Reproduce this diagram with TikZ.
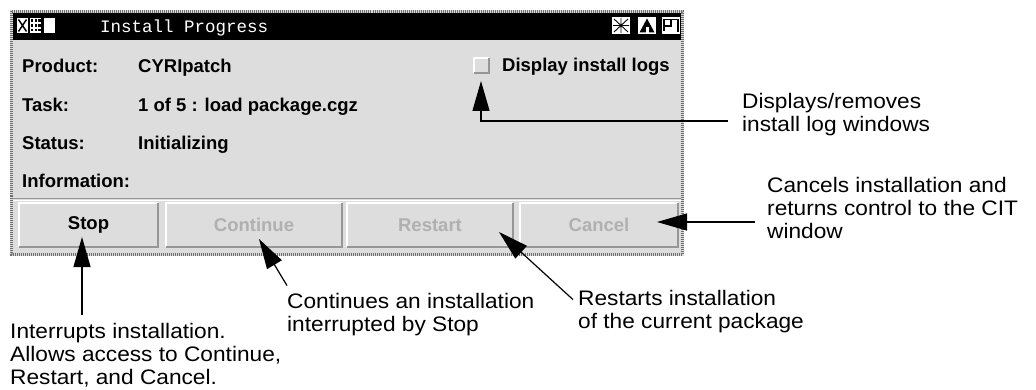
\documentclass[tikz,border=0pt]{standalone}
\usepackage{fontspec}
\setmainfont{Liberation Sans}
\newfontfamily\notefont[FakeStretch=1.08]{Liberation Sans}
\newfontfamily\titlefont{Liberation Mono}
\usetikzlibrary{arrows.meta}
\definecolor{uiface}{RGB}{221,221,221}
\definecolor{uishade}{RGB}{150,150,150}
\definecolor{uidim}{RGB}{176,176,176}
\definecolor{uiframe}{RGB}{110,110,110}
\tikzstyle{dialog}=[
    x=1pt, y=-1pt,
    field label/.style={font={\bfseries\fontsize{18.5}{20}\selectfont},anchor=base west,inner sep=0pt},
    button/.style={fill=uiface,minimum height=44pt,inner sep=0pt,font={\bfseries\fontsize{18.5}{20}\selectfont}},
    checkbox/.style={fill=uiface,minimum size=15pt,inner sep=0pt},
    bevel light/.style={white,line width=2pt},
    bevel dark/.style={uishade,line width=2pt},
    title icon/.style={fill=white},
    note/.style={font={\notefont\fontsize{21}{23}\selectfont},anchor=base west,align=left,inner sep=0pt},
    callout/.style={line width=1.2pt,-{Triangle[length=30pt,width=17pt]}},
]

\begin{document}
\begin{tikzpicture}[dialog]
    \useasboundingbox (0,0) rectangle (1036,390);

    % window
    \fill[uiface] (10,10) rectangle (684,256);
    \draw[uiframe,line width=3pt,dash pattern=on 1pt off 1pt] (11.5,11.5) rectangle (682.5,254.5);
    \fill[black] (13,13) rectangle (681,40);

    % title bar
    \fill[title icon] (17,18) rectangle (28,33);
    \draw[black,line width=1.4pt] (18.5,19.5) -- (26.5,31.5) (26.5,19.5) -- (18.5,31.5);
    \fill[title icon] (30,18) rectangle (41,33);
    \foreach \i in {0,1,2}
        \foreach \j in {0,1,2}
            \fill[black] ({31+\i*3.7},{19.5+\j*4.6}) rectangle +(2.2,2.6);
    \fill[title icon] (44,18) rectangle (55,33);
    \node[anchor=base west,inner sep=0pt,text=white,font={\titlefont\fontsize{17.5}{20}\selectfont}] (title) at (100,33) {Install Progress};
    \fill[title icon] (612,17) rectangle (630,34);
    \draw[black,line width=0.9pt] (621,18) -- (621,33) (613,25.5) -- (629,25.5) (614,19) -- (628,32) (628,19) -- (614,32);
    \fill[title icon] (638,17) rectangle (656,34);
    \fill[black] (647,18.5) -- (654.5,32.5) -- (639.5,32.5) -- cycle;
    \fill[title icon] (645.5,27) rectangle (648.5,34);
    \fill[title icon] (662,17) rectangle (680,34);
    \draw[black,line width=1.2pt] (664,31.5) -- (664,19.5) -- (678,19.5) (671,19.5) -- (671,26) -- (664,26) (678,19.5) -- (678,32);

    % fields
    \foreach \k/\y [count=\i] in {Product:/73, Task:/112, Status:/150, Information:/188}
        \node[field label] (key\i) at (22,\y) {\k};
    \foreach \v/\y [count=\i] in {CYRIpatch/73, 1 of 5 : load package.cgz/112, Initializing/150}
        \node[field label] (val\i) at (138,\y) {\v};

    \node[checkbox] (logbox) at (481.5,65.5) {};
    \draw[bevel light] (logbox.south west) |- (logbox.north east);
    \draw[bevel dark] (logbox.south west) -| (logbox.north east);
    \node[field label] (loglabel) at (502,72) {Display install logs};

    % buttons
    \draw[uishade] (13,198.5) -- (681,198.5);
    \draw[white] (13,200.5) -- (681,200.5);
    \foreach \n/\l/\xa/\xb/\c in {stop/Stop/19/158/black, cont/Continue/166/342/uidim, rest/Restart/347/513/uidim, canc/Cancel/520/678/uidim}{
        \node[button,minimum width=\xb pt-\xa pt,text=\c] (\n) at ({(\xa+\xb)/2},225) {\l};
        \draw[bevel light] (\n.south west) |- (\n.north east);
        \draw[bevel dark] (\n.south west) -| (\n.north east);
    }

    % notes (placed at the baseline of their last line)
    \node[note] (lognote) at (742,132) {Displays/removes\\install log windows};
    \node[note] (cancnote) at (767,239) {Cancels installation and\\returns control to the CIT\\window};
    \node[note] (stopnote) at (10,384) {Interrupts installation.\\Allows access to Continue,\\Restart, and Cancel.};
    \node[note] (contnote) at (287,331) {Continues an installation\\interrupted by Stop};
    \node[note] (restnote) at (578,328) {Restarts installation\\of the current package};

    \coordinate (logtip) at (481,81);
    \coordinate (stoptip) at (82,237);
    \coordinate (conttip) at (259,239);
    \coordinate (resttip) at (499,232);
    \coordinate (canctip) at (657,222);

    \draw[callout] ([xshift=-14pt]lognote.west |- 0,121) -| (logtip);
    \draw[callout] ([xshift=-12pt]cancnote.west |- canctip) -- (canctip);
    \draw[callout] ([yshift=8pt]stopnote.north -| stoptip) -- (stoptip);
    \draw[callout] ([yshift=7pt]contnote.north west) -- (conttip);
    \draw[callout] ([xshift=-5pt,yshift=-10pt]restnote.north west) -- (resttip);

\end{tikzpicture}
\end{document}
